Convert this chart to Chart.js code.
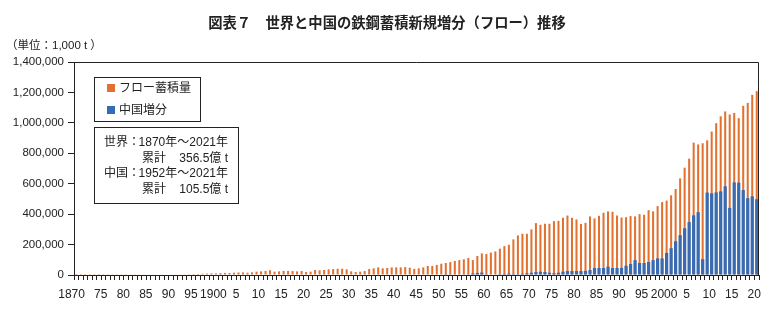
<!DOCTYPE html>
<html lang="ja">
<head>
<meta charset="utf-8">
<script src="https://cdn.jsdelivr.net/npm/chart.js@4/dist/chart.umd.min.js"></script>
<style>
  body { margin: 0; background: #fff; }
  #wrap { position: relative; width: 780px; height: 324px; color: #222;
          font-family: "Liberation Sans", "Noto Sans CJK JP", sans-serif; }
  #chart { position: absolute; left: 0; top: 0; }
  .title { position: absolute; left: 0; width: 774px; top: 12px; text-align: center;
           font-family: "Noto Sans CJK JP", sans-serif; font-weight: bold; font-size: 14.3px; line-height: 20px; }
  .unit { position: absolute; left: 6px; top: 37px; font-size: 11.5px; line-height: 16px; }
  .box { position: absolute; background: #fff; border: 1.2px solid #222; box-sizing: border-box; }
  .row { position: absolute; font-size: 12px; line-height: 16px; white-space: nowrap; }
  .sw { position: absolute; width: 8px; height: 8px; }
</style>
</head>
<body>
<div id="wrap">
  <canvas id="chart" width="780" height="324"></canvas>
  <div class="title">図表７　世界と中国の鉄鋼蓄積新規増分（フロー）推移</div>
  <div class="unit">（単位：1,000 t ）</div>

  <div class="box" style="left:94px;top:77px;width:107px;height:45px;"></div>
  <div class="sw" style="left:107px;top:84px;background:#E2702F;"></div>
  <div class="row" style="left:119px;top:80px;">フロー蓄積量</div>
  <div class="sw" style="left:107px;top:106px;background:#2F6DB4;"></div>
  <div class="row" style="left:119px;top:102px;">中国増分</div>

  <div class="box" style="left:94px;top:127px;width:145px;height:77px;"></div>
  <div class="row" style="left:104px;top:134px;">世界：</div>
  <div class="row" style="right:552px;top:134px;">1870年〜2021年</div>
  <div class="row" style="left:142px;top:150px;">累計</div>
  <div class="row" style="right:552px;top:150px;">356.5億 t</div>
  <div class="row" style="left:104px;top:165px;">中国：</div>
  <div class="row" style="right:552px;top:165px;">1952年〜2021年</div>
  <div class="row" style="left:142px;top:181px;">累計</div>
  <div class="row" style="right:552px;top:181px;">105.5億 t</div>
</div>
<script>
// years on the category axis
const firstYear = 1870, lastYear = 2021;
const years = [];
for (let y = firstYear; y <= lastYear; y++) years.push(y);

// world flow accumulation, 1,000 t, 1870-2021
const flowStock = [
  500, 600, 700, 700, 800, 900, 1000, 1100, 1200, 1300,
  1500, 1700, 1900, 2000, 2000, 2200, 2500, 2900, 3200, 3600,
  3700, 3800, 4200, 4000, 4600, 5400, 6000, 6800, 8000, 9200,
  10500, 11000, 12500, 13500, 13000, 15000, 16500, 17000, 15000, 17500,
  22000, 24000, 27000, 32000, 22000, 24000, 27000, 27000, 26000, 24000,
  26000, 20000, 22000, 33000, 31000, 33000, 37000, 39000, 41000, 41000,
  37000, 24000, 20000, 22000, 26000, 39000, 44000, 50000, 44000, 46000,
  50000, 50000, 50000, 52000, 48000, 40000, 44000, 50000, 59000, 59000,
  66000, 74000, 79000, 85000, 92000, 98000, 103000, 112000, 98000, 125000,
  142000, 138000, 147000, 155000, 173000, 190000, 199000, 234000, 260000, 271000,
  271000, 300000, 341000, 330000, 337000, 337000, 354000, 356000, 376000, 391000,
  376000, 365000, 335000, 343000, 385000, 372000, 389000, 409000, 418000, 415000,
  391000, 378000, 380000, 387000, 385000, 400000, 396000, 426000, 418000, 453000,
  479000, 489000, 524000, 565000, 635000, 705000, 765000, 870000, 858000, 866000,
  885000, 943000, 998000, 1043000, 1075000, 1055000, 1065000, 1031000, 1112000, 1131000,
  1184000, 1208000
];

// China increase, 1,000 t, from 1952
const chinaStart = 1952;
const chinaAdd = [
  1500, 2000, 2500, 3000, 4000, 5000, 10000, 14000,
  16000, 5000, 3000, 3500, 5000, 7000, 9000, 6000, 5000, 8000,
  11000, 15000, 20000, 22000, 20000, 15000, 12000, 15000, 22000, 26000,
  26000, 26000, 26000, 27000, 33000, 46000, 46000, 46000, 55000, 46000,
  46000, 47000, 61000, 72000, 98000, 79000, 79000, 85000, 98000, 109000,
  109000, 145000, 176000, 222000, 262000, 307000, 348000, 392000, 413000, 104000,
  542000, 537000, 543000, 550000, 583000, 441000, 609000, 607000, 558000, 505000,
  517000, 498000
];

const yMax = 1400000, yStep = 200000;

const chinaSeries = years.map(y => y < chinaStart ? null : chinaAdd[y - chinaStart]);

const axisFont = { family: 'Liberation Sans', size: 11.5 };
const ink = '#222';

// top and right edges of the plot frame
const frame = {
  id: 'frame',
  afterDraw(chart) {
    const { ctx, chartArea: a } = chart;
    ctx.save();
    ctx.strokeStyle = ink;
    ctx.lineWidth = 1;
    ctx.beginPath();
    ctx.moveTo(a.left, a.top + 0.5);
    ctx.lineTo(a.right - 0.5, a.top + 0.5);
    ctx.lineTo(a.right - 0.5, a.bottom);
    ctx.stroke();
    ctx.restore();
  }
};

new Chart(document.getElementById('chart'), {
  type: 'bar',
  data: {
    labels: years,
    datasets: [
      {
        label: 'フロー蓄積量',
        data: flowStock,
        backgroundColor: '#E2702F',
        grouped: false,
        barPercentage: 0.45,
        categoryPercentage: 1,
        order: 1
      },
      {
        label: '中国増分',
        data: chinaSeries,
        backgroundColor: '#3A6BB0',
        grouped: false,
        barPercentage: 0.72,
        categoryPercentage: 1,
        order: 0
      }
    ]
  },
  options: {
    responsive: false,
    animation: false,
    events: [],
    layout: { padding: { top: 62, right: 21, left: 0, bottom: 0 } },
    plugins: { legend: { display: false }, tooltip: { enabled: false }, title: { display: false } },
    scales: {
      x: {
        grid: { drawOnChartArea: false, offset: true, tickLength: 5, color: ink },
        border: { color: ink, width: 1 },
        ticks: {
          autoSkip: false, maxRotation: 0, minRotation: 0, padding: 7, labelOffset: 2,
          color: ink, font: { family: 'Liberation Sans', size: 12 },
          callback(v, i) {
            const y = years[i];
            if (y % 5 !== 0) return '';
            // trailing spaces nudge the first label left, clear of "75"
            if (y === firstYear) return y + '    ';
            if (y === 1900 || y === 2000) return String(y);
            return String(y % 100);
          }
        },
        afterFit(s) { s.height = 49; }
      },
      y: {
        min: 0, max: yMax,
        grid: { drawOnChartArea: false, tickLength: 6, color: ink },
        border: { color: ink, width: 1 },
        ticks: {
          stepSize: yStep, padding: 4, color: ink, font: axisFont,
          callback: v => v.toLocaleString('en-US')
        },
        afterFit(s) { s.width = 74; }
      }
    }
  },
  plugins: [frame]
});
</script>
</body>
</html>
